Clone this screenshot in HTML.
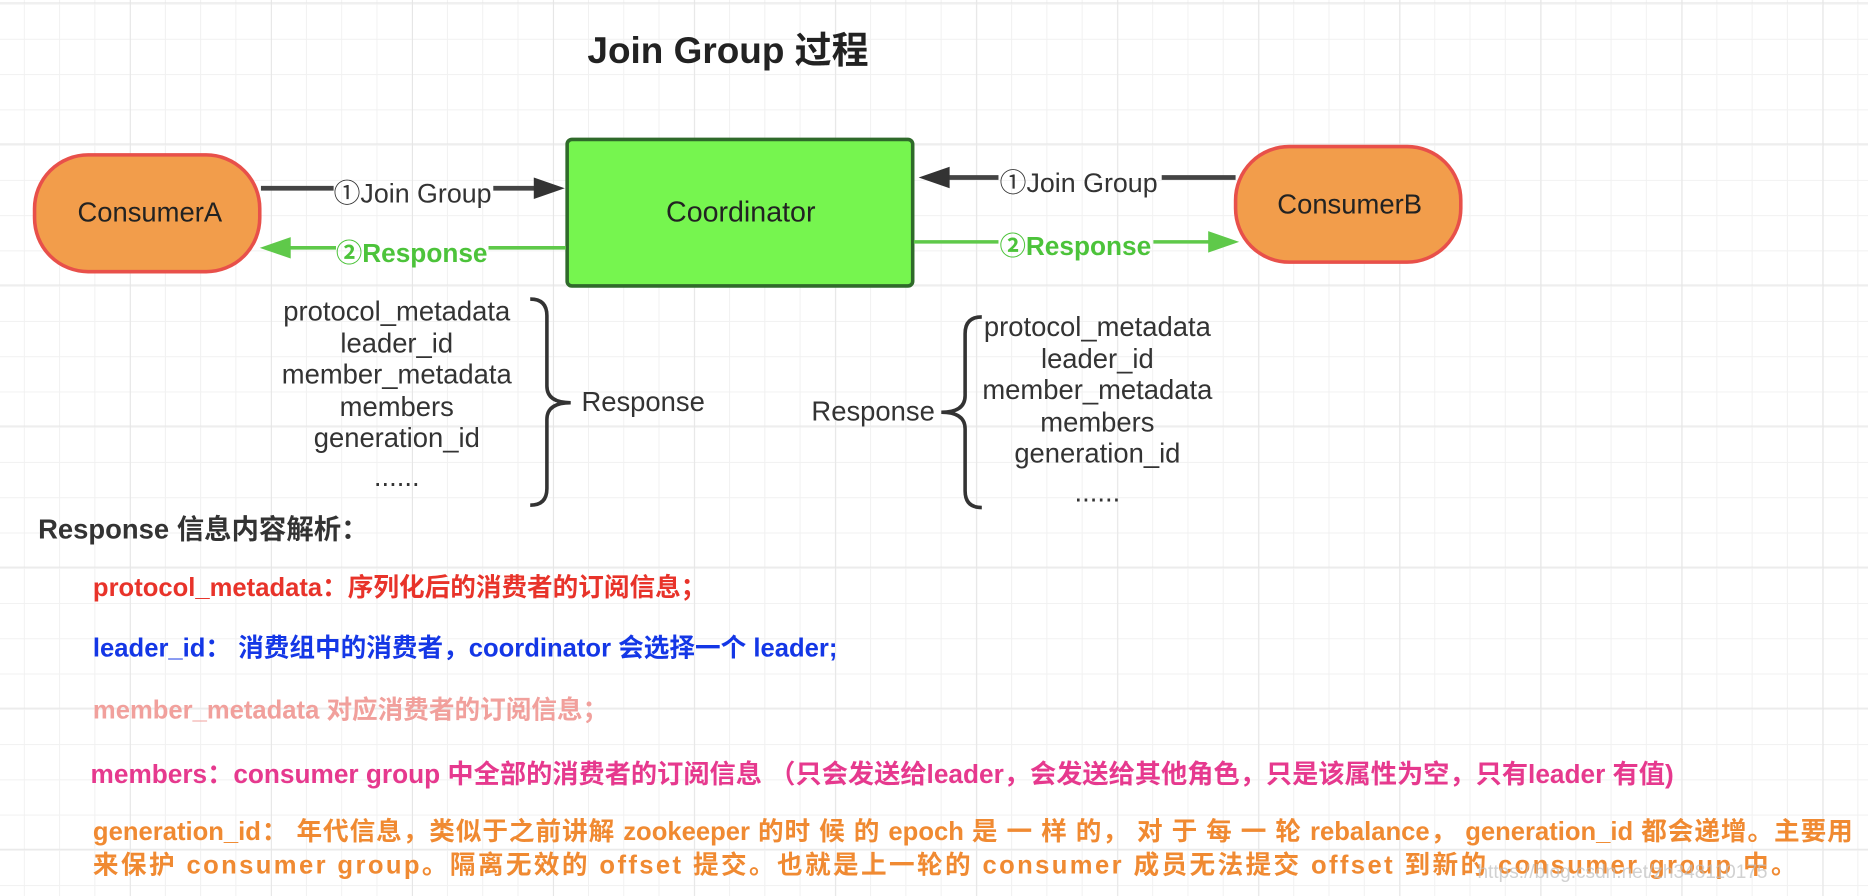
<!DOCTYPE html>
<html><head><meta charset="utf-8"><style>
html,body{margin:0;padding:0}
body{width:1868px;height:896px;position:relative;overflow:hidden;background:#fff;font-family:"Liberation Sans","Noto Sans CJK SC",sans-serif}
#w{position:absolute;left:0;top:0;width:1568px;height:752px;transform:scale(1.1915);transform-origin:0 0;
background-image:
linear-gradient(#e6e6e6 1px,transparent 1px),linear-gradient(90deg,#e6e6e6 1px,transparent 1px),
linear-gradient(#f1f1f1 1px,transparent 1px),linear-gradient(90deg,#f1f1f1 1px,transparent 1px);
background-size:118.4px 118.4px,118.4px 118.4px,29.6px 29.6px,29.6px 29.6px;
background-position:0 2px,109px 0,0 3px,20px 0}
.t{position:absolute;white-space:nowrap}
.lst{position:absolute;text-align:center;font-size:23px;color:#333;line-height:26.5px}
.b{font-weight:bold;font-size:21.5px}
</style></head><body><div id="w">
<div class="t" style="left:493px;top:17px;font-size:31px;font-weight:bold;color:#222">Join Group 过程</div>

<svg width="1568" height="752" style="position:absolute;left:0;top:0">
<rect x="29" y="130" width="189" height="98" rx="45" fill="#f29d4b" stroke="#e8504a" stroke-width="3"/>
<rect x="1037" y="123" width="189" height="97" rx="45" fill="#f29d4b" stroke="#e8504a" stroke-width="3"/>
<rect x="476" y="117" width="290" height="123" rx="4" fill="#76f54f" stroke="#2f6a2a" stroke-width="3"/>
<line x1="219" y1="158" x2="280" y2="158" stroke="#444" stroke-width="4"/>
<line x1="414" y1="158" x2="452" y2="158" stroke="#444" stroke-width="4"/>
<path d="M448,149 L474,158 L448,167 z" fill="#333"/>
<line x1="975" y1="149" x2="1037" y2="149" stroke="#444" stroke-width="4"/>
<line x1="795" y1="149" x2="838" y2="149" stroke="#444" stroke-width="4"/>
<path d="M797,140 L771,149 L797,158 z" fill="#333"/>
<line x1="410" y1="208" x2="475" y2="208" stroke="#5fc94a" stroke-width="3"/>
<line x1="240" y1="208" x2="282" y2="208" stroke="#5fc94a" stroke-width="3"/>
<path d="M244,199 L218,208 L244,217 z" fill="#5fc94a"/>
<line x1="767" y1="203" x2="838" y2="203" stroke="#5fc94a" stroke-width="3"/>
<line x1="968" y1="203" x2="1018" y2="203" stroke="#5fc94a" stroke-width="3"/>
<path d="M1014,194 L1040,203 L1014,212 z" fill="#5fc94a"/>
<path d="M445,251 Q459,251 459,265 L459,324 Q459,338 479,338 Q459,338 459,352 L459,410 Q459,424 445,424" fill="none" stroke="#333" stroke-width="3"/>
<path d="M824,266 Q810,266 810,280 L810,332 Q810,346 790,346 Q810,346 810,360 L810,412 Q810,426 824,426" fill="none" stroke="#333" stroke-width="3"/>
</svg>

<div class="t" style="left:65px;top:165px;font-size:23px;color:#222">ConsumerA</div>
<div class="t" style="left:1072px;top:158px;font-size:23px;color:#222">ConsumerB</div>
<div class="t" style="left:559px;top:165px;font-size:24px;color:#222">Coordinator</div>
<div class="t" style="left:280px;top:145px;font-size:22.5px;color:#333">①Join Group</div>
<div class="t" style="left:839px;top:136px;font-size:22.5px;color:#333">①Join Group</div>
<div class="t" style="left:282px;top:195px;font-size:22px;color:#4cc33a;font-weight:bold">②Response</div>
<div class="t" style="left:839px;top:189px;font-size:22px;color:#4cc33a;font-weight:bold">②Response</div>

<div class="lst" style="left:213px;top:248px;width:240px">protocol_metadata<br>leader_id<br>member_metadata<br>members<br>generation_id<br><span style="line-height:38px">......</span></div>
<div class="t" style="left:488px;top:324px;font-size:23px;color:#333">Response</div>
<div class="lst" style="left:801px;top:261px;width:240px">protocol_metadata<br>leader_id<br>member_metadata<br>members<br>generation_id<br><span style="line-height:38px">......</span></div>
<div class="t" style="left:681px;top:332px;font-size:23px;color:#333">Response</div>

<div class="t b" style="left:32px;top:425px;font-size:23px;color:#333">Response 信息内容解析：</div>
<div class="t b" style="left:78px;top:476px;color:#e8332a">protocol_metadata：序列化后的消费者的订阅信息；</div>
<div class="t b" style="left:78px;top:527px;color:#1437e6">leader_id： 消费组中的消费者，coordinator 会选择一个 leader;</div>
<div class="t b" style="left:78px;top:579px;color:#f1a09c">member_metadata 对应消费者的订阅信息；</div>
<div class="t b" style="left:76px;top:632px;font-size:22px;color:#e6398e">members：consumer group 中全部的消费者的订阅信息 （只会发送给leader，会发送给其他角色，只是该属性为空，只有leader 有值)</div>
<div style="position:absolute;left:78px;top:684px;width:1477px;font-weight:bold;font-size:21.5px;color:#f08a32;line-height:28px;text-align:justify;text-align-last:justify;white-space:nowrap">generation_id： 年代信息，类似于之前讲解 zookeeper 的时 候 的 epoch 是 一 样 的， 对 于 每 一 轮 rebalance， generation_id 都会递增。主要用</div>
<div class="t" style="left:78px;top:712px;font-weight:bold;font-size:21.5px;color:#f08a32;line-height:28px;letter-spacing:2px">来保护 consumer group。隔离无效的 offset 提交。也就是上一轮的 consumer 成员无法提交 offset 到新的 consumer group 中。</div>
<div class="t" style="left:1240px;top:724px;font-size:16px;color:rgba(190,190,190,0.7)">https://blog.csdn.net/zh348110175</div>
</div></body></html>
